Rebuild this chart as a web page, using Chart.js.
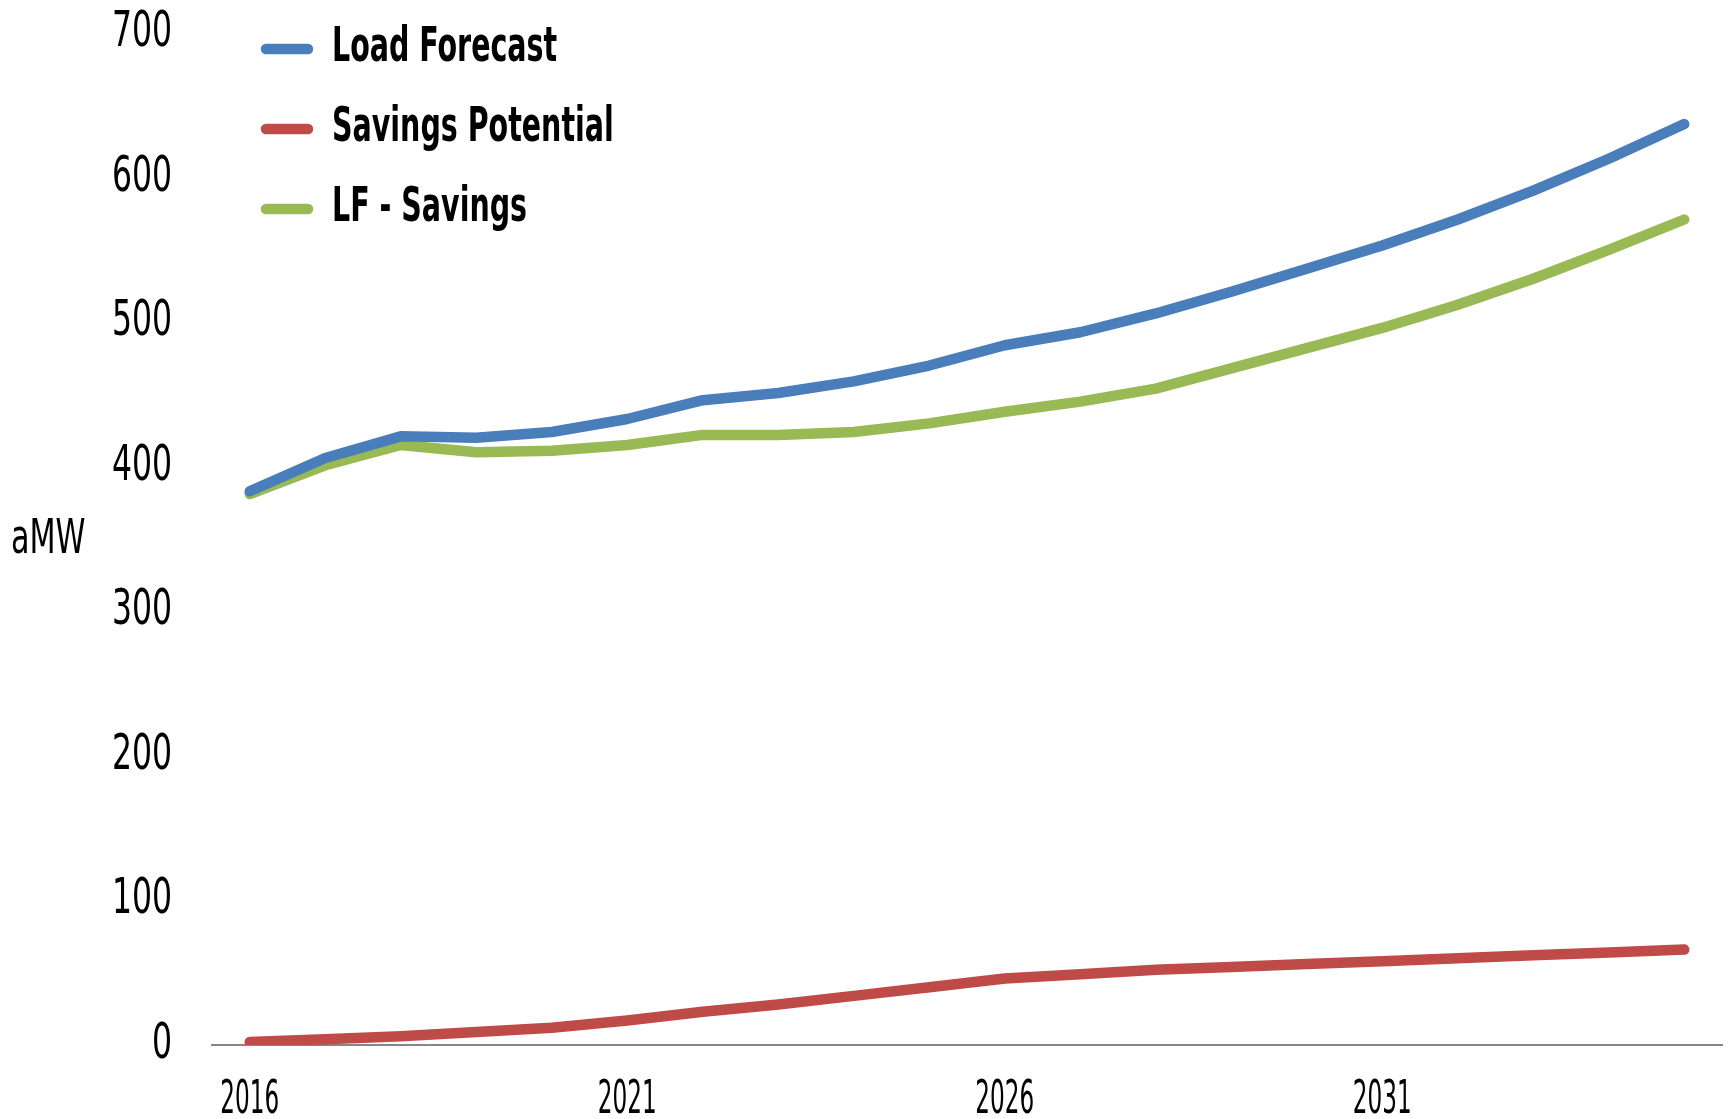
<!DOCTYPE html>
<html>
<head>
<meta charset="utf-8">
<title>Load Forecast vs Savings Potential</title>
<script src="https://cdn.jsdelivr.net/npm/chart.js@4.4.1/dist/chart.umd.min.js"></script>
<style>
  html, body { margin: 0; padding: 0; background: #fff; }
  #wrap { width: 1729px; height: 1119px; position: relative; }
</style>
</head>
<body>
<div id="wrap"><canvas id="loadChart"></canvas></div>
<script>
// Yearly values, aMW
const years = ['2016', '2017', '2018', '2019', '2020', '2021', '2022', '2023', '2024', '2025',
               '2026', '2027', '2028', '2029', '2030', '2031', '2032', '2033', '2034', '2035'];
const loadForecast = [383, 406, 421, 420, 424, 433, 446, 451, 459, 470,
                      484, 493, 506, 521, 537, 553, 571, 591, 613, 637];
const savingsPotential = [2, 4, 6, 9, 12, 17, 23, 28, 34, 40,
                          46, 49, 52, 54, 56, 58, 60, 62, 64, 66];
const lfMinusSavings = [381, 401, 415, 410, 411, 415, 422, 422, 424, 430,
                        438, 445, 454, 468, 482, 496, 512, 530, 550, 571];
const yTicks = [0, 100, 200, 300, 400, 500, 600, 700];

const FONT = "'DejaVu Sans Condensed', 'Liberation Sans Narrow', sans-serif";

// labels use a tall, narrow face: squeeze glyphs horizontally
function squeezeFor(font) {
    if (font.indexOf('bold') !== -1) return 0.66;   // legend
    if (font.indexOf('46px') !== -1) return 0.56;   // year labels
    return 0.7;
}

function series(label, data, color) {
    return {
        label: label,
        data: data,
        borderColor: color,
        backgroundColor: color,
        borderWidth: 10.5,
        borderCapStyle: 'round',
        borderJoinStyle: 'round',
        pointRadius: 0,
        tension: 0,
        fill: false
    };
}

const narrowText = {
    id: 'narrowText',
    beforeDraw(chart) {
        const ctx = chart.ctx;
        if (ctx._narrowed) return;
        const fillText = ctx.fillText;
        ctx.fillText = function(text, x, y, maxWidth) {
            const w = this.measureText(text).width * squeezeFor(this.font);
            fillText.call(this, text, x, y, maxWidth !== undefined ? Math.min(maxWidth, w) : w);
        };
        ctx._narrowed = true;
    }
};

// Legend sits inside the plot, tucked into the top left corner
const legendPlacement = {
    id: 'legendPlacement',
    afterLayout(chart) {
        const lg = chart.legend;
        const w = lg.width;
        lg.left = 234;
        lg.right = lg.left + w;
        lg.top = -7;
    }
};

// Horizontal axis caption on the left
const yCaption = {
    id: 'yCaption',
    afterDraw(chart) {
        const ctx = chart.ctx;
        const area = chart.chartArea;
        ctx.save();
        ctx.font = '48px ' + FONT;
        ctx.fillStyle = '#000';
        ctx.textAlign = 'left';
        ctx.textBaseline = 'middle';
        ctx.fillText('aMW', 11, (area.top + area.bottom) / 2 + 2);
        ctx.restore();
    }
};

new Chart(document.getElementById('loadChart'), {
    type: 'line',
    data: {
        labels: years,
        datasets: [
            series('Load Forecast', loadForecast, '#4A7EBB'),
            series('Savings Potential', savingsPotential, '#BE4B48'),
            series('LF - Savings', lfMinusSavings, '#98B954')
        ]
    },
    options: {
        responsive: true,
        maintainAspectRatio: false,
        animation: false,
        layout: { padding: { top: 33, right: 7, left: 0, bottom: 0 } },
        plugins: {
            tooltip: { enabled: false },
            legend: {
                position: 'chartArea',
                align: 'start',
                labels: {
                    usePointStyle: true,
                    pointStyle: 'line',
                    pointStyleWidth: 42,
                    padding: 32,
                    color: '#000',
                    font: { family: FONT, size: 48, weight: 'bold' },
                    generateLabels(chart) {
                        const items = Chart.defaults.plugins.legend.labels.generateLabels(chart);
                        return items.map(item => Object.assign(item, { lineCap: 'round' }));
                    }
                }
            }
        },
        scales: {
            x: {
                offset: true,
                grid: { display: false, drawTicks: false },
                border: { display: true, color: '#868686', width: 2 },
                ticks: {
                    autoSkip: false,
                    maxRotation: 0,
                    padding: 28,
                    color: '#000',
                    font: { family: FONT, size: 46 },
                    callback: function(value, index) {
                        return index % 5 === 0 ? this.getLabelForValue(value) : '';
                    }
                },
                afterFit(scale) {
                    scale.height = 74;
                    scale.paddingLeft = 0;
                    scale.paddingRight = 0;
                }
            },
            y: {
                min: 0,
                max: 700,
                grid: { display: false, drawTicks: false },
                border: { display: false },
                afterBuildTicks(scale) {
                    scale.ticks = yTicks.map(v => ({ value: v }));
                },
                ticks: {
                    padding: 40,
                    color: '#000',
                    font: { family: FONT, size: 50, lineHeight: 1 }
                },
                afterFit(scale) {
                    scale.width = 212;
                    scale.paddingTop = 0;
                    scale.paddingBottom = 0;
                }
            }
        }
    },
    plugins: [narrowText, legendPlacement, yCaption]
});
</script>
</body>
</html>
